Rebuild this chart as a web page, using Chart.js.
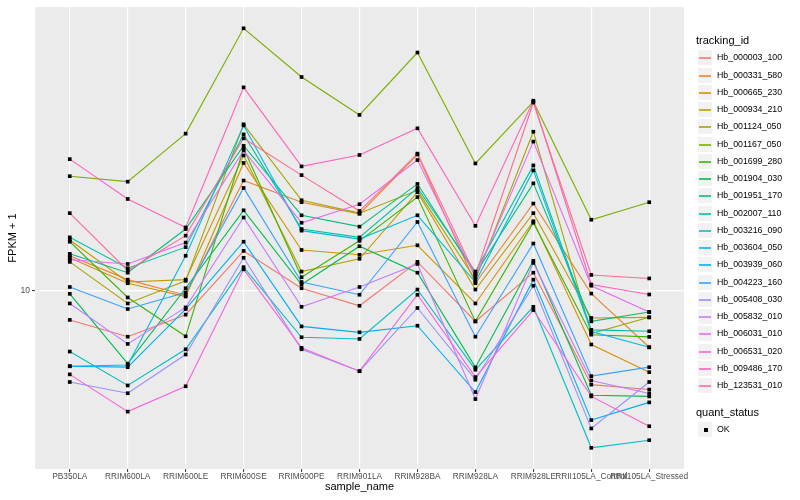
<!DOCTYPE html>
<html lang="en">
<head>
<meta charset="utf-8">
<script src="https://cdn.jsdelivr.net/npm/chart.js@4.4.0/dist/chart.umd.min.js"></script>
<style>
  body { margin: 0; background: #fff; font-family: "Liberation Sans", Arial, sans-serif; }
  #wrap { position: relative; width: 800px; height: 500px; }
  #legend { position: absolute; left: 0; top: 0; width: 800px; height: 500px; pointer-events: none; }
  .ltitle { position: absolute; left: 696px; font-size: 11px; color: #000; line-height: 12px; }
  .lkey { position: absolute; left: 697px; width: 16px; height: 17px; background: #F2F2F2; box-sizing: border-box; border: 0.5px solid #fff; }
  .lline { position: absolute; left: 1px; right: 1px; top: 7px; height: 2px; opacity: 0.8; }
  .ldot { position: absolute; left: 6px; top: 6px; width: 4px; height: 4px; background: #000; }
  .ltext { position: absolute; left: 717px; font-size: 8.8px; color: #000; line-height: 10px; }
</style>
</head>
<body>
<div id="wrap">
  <canvas id="canvas" width="800" height="500"></canvas>
  <div id="legend"></div>
</div>
<script>
// categories on the x axis
var categories = ["PB350LA", "RRIM600LA", "RRIM600LE", "RRIM600SE", "RRIM600PE", "RRIM901LA",
                  "RRIM928BA", "RRIM928LA", "RRIM928LE", "RRII105LA_Control", "RRII105LA_Stressed"];

// FPKM + 1 per gene
var hb_000003_100 = [7.99, 7.02, 8.32, 13.6, 10.2, 8.91, 12.5, 7.90, 11.5, 4.85, 4.67];
var hb_000331_580 = [13.1, 10.9, 9.67, 23.4, 19.8, 18.1, 28.6, 10.6, 19.6, 9.79, 6.47];
var hb_000665_230 = [12.9, 10.6, 9.57, 26.8, 13.7, 13.2, 14.2, 9.07, 17.1, 6.61, 5.34];
var hb_000934_210 = [14.8, 10.7, 10.9, 28.4, 11.6, 12.8, 21.4, 10.1, 18.2, 8.11, 8.15];
var hb_001124_050 = [12.5, 9.07, 10.8, 36.1, 20.1, 18.2, 21.7, 10.9, 34.1, 7.19, 8.15];
var hb_001167_050 = [24.2, 23.2, 33.6, 75.7, 52.0, 38.8, 62.8, 26.7, 43.0, 17.3, 19.8];
var hb_001699_280 = [14.6, 9.50, 7.04, 30.0, 11.1, 14.7, 20.6, 7.90, 16.9, 7.13, 7.01];
var hb_001904_030 = [9.77, 5.70, 10.2, 18.6, 10.5, 14.1, 11.5, 5.54, 12.6, 4.47, 4.43];
var hb_001951_170 = [13.3, 11.5, 16.1, 30.6, 17.9, 16.4, 22.8, 11.4, 22.9, 7.90, 8.49];
var hb_002007_110 = [15.1, 11.9, 14.0, 33.4, 16.1, 15.1, 22.1, 11.6, 26.3, 7.40, 7.32];
var hb_003216_090 = [6.26, 4.82, 6.37, 12.0, 6.99, 6.90, 10.1, 5.44, 8.84, 2.98, 3.16];
var hb_003604_050 = [5.59, 5.64, 13.1, 35.8, 15.9, 14.9, 17.9, 10.7, 25.3, 7.30, 6.47];
var hb_003939_060 = [5.59, 5.55, 8.69, 14.6, 7.60, 7.26, 7.64, 4.58, 10.9, 3.69, 4.23];
var hb_004223_160 = [10.3, 8.69, 9.87, 22.1, 10.7, 9.70, 17.0, 7.02, 14.4, 5.18, 5.55];
var hb_005408_030 = [4.95, 4.54, 6.12, 12.9, 6.37, 5.38, 8.76, 5.04, 10.4, 3.46, 4.95];
var hb_005832_010 = [9.07, 6.64, 8.80, 17.6, 8.84, 10.3, 12.3, 4.34, 12.4, 5.01, 4.53];
var hb_006031_010 = [12.7, 12.3, 14.5, 29.5, 16.9, 19.5, 27.4, 11.1, 31.6, 10.4, 8.49];
var hb_006531_020 = [5.25, 3.94, 4.79, 11.8, 6.44, 5.38, 9.70, 5.14, 8.62, 4.43, 3.52];
var hb_009486_170 = [27.6, 20.3, 16.3, 48.0, 26.1, 28.5, 35.0, 16.5, 43.3, 10.5, 9.72];
var hb_123531_010 = [18.2, 11.7, 15.3, 32.4, 24.4, 18.5, 28.8, 11.3, 42.7, 11.3, 11.0];

var trackingIds = ["Hb_000003_100", "Hb_000331_580", "Hb_000665_230", "Hb_000934_210", "Hb_001124_050",
                   "Hb_001167_050", "Hb_001699_280", "Hb_001904_030", "Hb_001951_170", "Hb_002007_110",
                   "Hb_003216_090", "Hb_003604_050", "Hb_003939_060", "Hb_004223_160", "Hb_005408_030",
                   "Hb_005832_010", "Hb_006031_010", "Hb_006531_020", "Hb_009486_170", "Hb_123531_010"];
var seriesValues = [hb_000003_100, hb_000331_580, hb_000665_230, hb_000934_210, hb_001124_050,
                    hb_001167_050, hb_001699_280, hb_001904_030, hb_001951_170, hb_002007_110,
                    hb_003216_090, hb_003604_050, hb_003939_060, hb_004223_160, hb_005408_030,
                    hb_005832_010, hb_006031_010, hb_006531_020, hb_009486_170, hb_123531_010];
// ggplot default hue palette, 20 levels
var seriesColors = ["#F8766D", "#EA8331", "#D89000", "#C09B00", "#A3A500", "#7CAE00", "#39B600", "#00BB4E",
                    "#00BF7D", "#00C1A3", "#00BFC4", "#00BAE0", "#00B0F6", "#35A2FF", "#9590FF", "#C77CFF",
                    "#E76BF3", "#FA62DB", "#FF62BC", "#FF6C91"];
var yTicks = [10];

// line datasets, later genes drawn on top like ggplot
var datasets = seriesValues.map(function(vals, i) {
  return {
    label: trackingIds[i],
    data: vals.map(function(v, j) { return { x: j, y: v }; }),
    showLine: true,
    borderColor: seriesColors[i],
    borderWidth: 1.1,
    pointRadius: 0,
    fill: false,
    tension: 0,
    order: seriesValues.length - i
  };
});
// the black points for quant_status = OK, drawn last
var allPoints = [];
seriesValues.forEach(function(vals) {
  vals.forEach(function(v, j) { allPoints.push({ x: j, y: v }); });
});
datasets.push({
  label: "OK",
  data: allPoints,
  showLine: false,
  pointStyle: "rect",
  pointRadius: 2.6,
  pointBackgroundColor: "#000",
  pointBorderWidth: 0,
  order: 0
});

var panelBg = {
  id: "panelBg",
  beforeDraw: function(chart) {
    var a = chart.chartArea, c = chart.ctx;
    c.save();
    c.fillStyle = "#EBEBEB";
    c.fillRect(a.left, a.top, a.right - a.left, a.bottom - a.top);
    c.restore();
  }
};

var ctx = document.getElementById("canvas").getContext("2d");
new Chart(ctx, {
  type: "scatter",
  data: { datasets: datasets },
  options: {
    responsive: false,
    animation: false,
    devicePixelRatio: 1,
    layout: { padding: { top: 5, right: 116, left: 0, bottom: 0 } },
    plugins: { legend: { display: false }, tooltip: { enabled: false } },
    scales: {
      x: {
        type: "linear",
        min: -0.6,
        max: 10.6,
        afterBuildTicks: function(scale) {
          scale.ticks = categories.map(function(c, i) { return { value: i }; });
        },
        afterFit: function(scale) { scale.height = 31; },
        ticks: {
          autoSkip: false,
          maxRotation: 0,
          padding: 0,
          color: "#4D4D4D",
          font: { family: "Liberation Sans", size: 8.3 },
          callback: function(v) { return categories[v]; }
        },
        grid: { color: "#FFFFFF", lineWidth: 1.2, tickLength: 3, tickColor: "#333333", tickWidth: 1 },
        border: { display: false },
        title: { display: true, text: "sample_name", color: "#000", font: { family: "Liberation Sans", size: 11 }, padding: { top: 0, bottom: 6 } }
      },
      y: {
        type: "logarithmic",
        min: 2.531,
        max: 89.13,
        afterBuildTicks: function(scale) {
          scale.ticks = yTicks.map(function(v) { return { value: v }; });
        },
        afterFit: function(scale) { scale.width = 35; },
        ticks: {
          padding: 2,
          color: "#4D4D4D",
          font: { family: "Liberation Sans", size: 8.5 },
          callback: function(v) { return String(v); }
        },
        grid: { color: "#FFFFFF", lineWidth: 1.2, tickLength: 3, tickColor: "#333333", tickWidth: 1 },
        border: { display: false },
        title: { display: true, text: "FPKM + 1", color: "#000", font: { family: "Liberation Sans", size: 11 }, padding: { top: 6, bottom: 0 } }
      }
    }
  },
  plugins: [panelBg]
});

// legend, drawn as html next to the panel
var legend = document.getElementById("legend");
function addEl(cls, top, text) {
  var d = document.createElement("div");
  d.className = cls;
  d.style.top = top + "px";
  if (text) d.textContent = text;
  legend.appendChild(d);
  return d;
}
addEl("ltitle", 34, "tracking_id");
trackingIds.forEach(function(id, i) {
  var cy = Math.round(57.3 + i * 17.25);
  var key = addEl("lkey", cy - 8);
  var ln = document.createElement("div");
  ln.className = "lline";
  ln.style.background = seriesColors[i];
  key.appendChild(ln);
  addEl("ltext", cy - 5, id);
});
addEl("ltitle", 405.5, "quant_status");
var okKey = addEl("lkey", 421);
var dot = document.createElement("div");
dot.className = "ldot";
okKey.appendChild(dot);
addEl("ltext", 424.3, "OK");
</script>
</body>
</html>
